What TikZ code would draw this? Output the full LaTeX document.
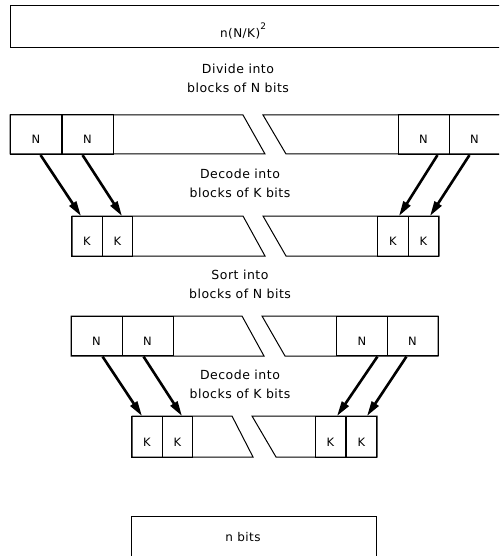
\documentclass[tikz,border=0pt]{standalone}
\usepackage{fontspec}
\setmainfont{DejaVu Sans}[LetterSpace=4]
\usetikzlibrary{arrows.meta}

\begin{document}
\begin{tikzpicture}[
        x=1pt, y=-1pt,
        line width=1pt,
        ncell/.style={draw, rectangle, outer sep=0pt, minimum width=51pt, minimum height=39.5pt,
            text height=19pt, text depth=0pt, font=\fontsize{11.5}{13}\selectfont},
        kcell/.style={ncell, minimum width=30.5pt, minimum height=40pt},
        caption/.style={align=center, font=\fontsize{12.5}{19}\selectfont},
        boxtext/.style={font=\fontsize{12}{14}\selectfont},
        move/.style={-{Triangle[length=15pt,width=8pt]}, line width=2.6pt, shorten <=1pt},
    ]
    \clip (0,0) rectangle (499,556);

    % whole message
    \draw (10,6) rectangle (520,48);
    \node[boxtext](total) at (243,31) {n(N/K)\raisebox{1.2ex}{\fontsize{9}{10}\selectfont 2}};
    \node[caption](divide) at (238,78) {Divide into\\blocks of N bits};

    % blocks of N bits
    \draw (243,115) -- (10,115) -- (10,154) -- (265,154) -- cycle;
    \draw (263,115) -- (520,115) -- (520,154) -- (286,154) -- cycle;
    \node[ncell](n1) at (36,134.5) {N};
    \node[ncell](n2) at (87.5,134.5) {N};
    \node[ncell](n3) at (423.5,134.5) {N};
    \node[ncell](n4) at (474.5,134.5) {N};
    \node[caption](decode1) at (240,183) {Decode into\\blocks of K bits};

    % blocks of K bits
    \draw (243,216) -- (72,216) -- (72,256) -- (265,256) -- cycle;
    \draw (263,216) -- (439,216) -- (439,256) -- (286,256) -- cycle;
    \node[kcell](k1) at (87,236) {K};
    \node[kcell](k2) at (117.5,236) {K};
    \node[kcell](k3) at (393,236) {K};
    \node[kcell](k4) at (423.5,236) {K};
    \node[caption](sort) at (240,284) {Sort into\\blocks of N bits};

    \draw[move] ([xshift=4pt]n1.south) -- ([xshift=-6pt]k1.north);
    \draw[move] ([xshift=-5.5pt]n2.south) -- ([xshift=4.5pt]k2.north);
    \draw[move] ([xshift=14.5pt]n3.south) -- ([xshift=6pt]k3.north);
    \draw[move] ([xshift=-4.5pt]n4.south) -- ([xshift=6.5pt]k4.north);

    % sorted blocks of N bits
    \draw (242,316) -- (71,316) -- (71,356) -- (264,356) -- cycle;
    \draw (262,316) -- (438,316) -- (438,356) -- (285,356) -- cycle;
    \node[ncell](s1) at (96.5,336) {N};
    \node[ncell](s2) at (147.5,336) {N};
    \node[ncell](s3) at (362,336) {N};
    \node[ncell](s4) at (412.5,336) {N};
    \node[caption](decode2) at (240,384) {Decode into\\blocks of K bits};

    % decoded blocks of K bits
    \draw (232,416) -- (132,416) -- (132,457) -- (253,457) -- cycle;
    \draw (252,416) -- (377,416) -- (377,457) -- (276,457) -- cycle;
    \node[kcell, minimum height=41pt](d1) at (147,436.5) {K};
    \node[kcell, minimum height=41pt](d2) at (177.5,436.5) {K};
    \node[kcell, minimum height=41pt](d3) at (330.5,436.5) {K};
    \node[kcell, minimum height=41pt](d4) at (361.5,436.5) {K};

    \draw[move] ([xshift=5.5pt]s1.south) -- ([xshift=-5pt]d1.north);
    \draw[move] ([xshift=-4.5pt]s2.south) -- ([xshift=4.5pt]d2.north);
    \draw[move] ([xshift=16pt]s3.south) -- ([xshift=6.5pt]d3.north);
    \draw[move] ([xshift=-5.5pt]s4.south) -- ([xshift=5.5pt]d4.north);

    % result
    \draw (131,570) -- (131,516) -- (376,516) -- (376,570);
    \node[boxtext](result) at (243,537) {n bits};
\end{tikzpicture}
\end{document}
